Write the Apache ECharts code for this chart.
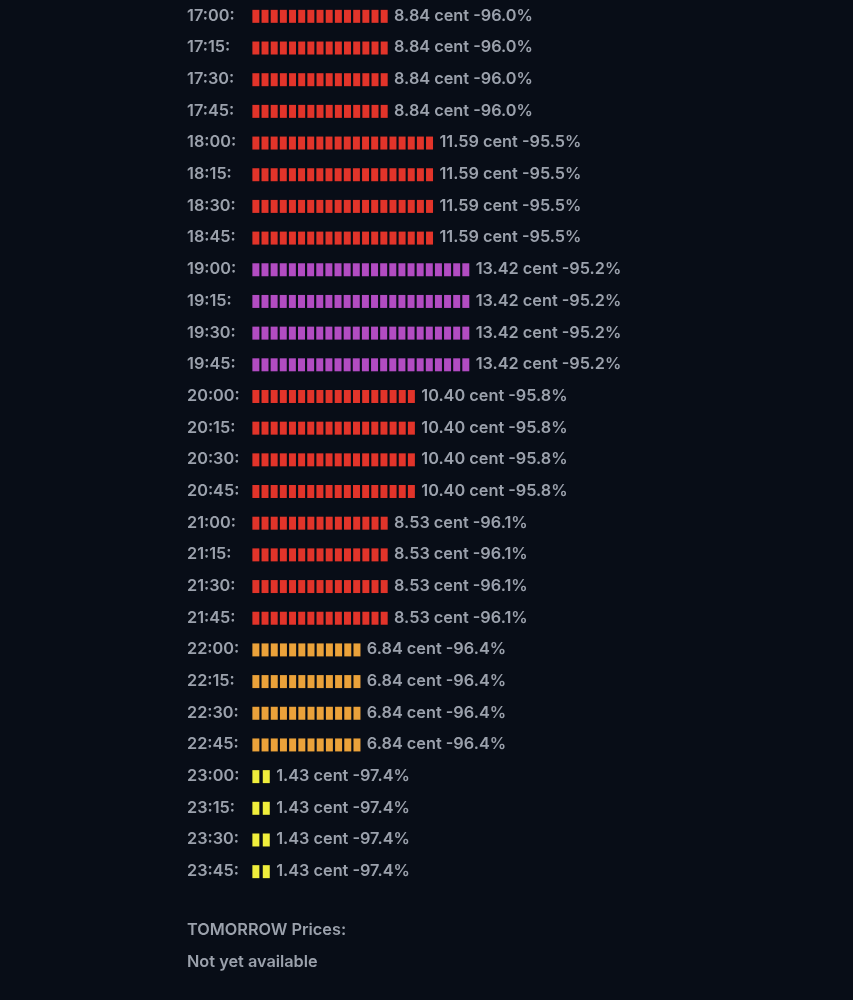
<!DOCTYPE html>
<html>
<head>
<meta charset="utf-8">
<script src="https://cdn.jsdelivr.net/npm/echarts@6/dist/echarts.min.js"></script>
<style>
  html, body { margin: 0; padding: 0; background: #080d17; }
  #chart { width: 853px; height: 1000px; }
</style>
</head>
<body>
<div id="chart"></div>
<script>
// time slots (quarter hours)
const times = [
  '17:00', '17:15', '17:30', '17:45', '18:00', '18:15', '18:30', '18:45',
  '19:00', '19:15', '19:30', '19:45', '20:00', '20:15', '20:30', '20:45',
  '21:00', '21:15', '21:30', '21:45', '22:00', '22:15', '22:30', '22:45',
  '23:00', '23:15', '23:30', '23:45'
]
// price in cent
const prices = [
  8.84, 8.84, 8.84, 8.84, 11.59, 11.59, 11.59, 11.59,
  13.42, 13.42, 13.42, 13.42, 10.40, 10.40, 10.40, 10.40,
  8.53, 8.53, 8.53, 8.53, 6.84, 6.84, 6.84, 6.84,
  1.43, 1.43, 1.43, 1.43
]
// change vs reference
const changes = [
  -96.0, -96.0, -96.0, -96.0, -95.5, -95.5, -95.5, -95.5,
  -95.2, -95.2, -95.2, -95.2, -95.8, -95.8, -95.8, -95.8,
  -96.1, -96.1, -96.1, -96.1, -96.4, -96.4, -96.4, -96.4,
  -97.4, -97.4, -97.4, -97.4
]
// number of blocks drawn per row
const blocks = [
  15, 15, 15, 15, 20, 20, 20, 20,
  24, 24, 24, 24, 18, 18, 18, 18,
  15, 15, 15, 15, 12, 12, 12, 12,
  2, 2, 2, 2
]
// price level per row
const levels = [
  'high', 'high', 'high', 'high', 'high', 'high', 'high', 'high',
  'peak', 'peak', 'peak', 'peak', 'high', 'high', 'high', 'high',
  'high', 'high', 'high', 'high', 'mid', 'mid', 'mid', 'mid',
  'low', 'low', 'low', 'low'
]

const colors = {
  peak: { fill: '#b24cc2', border: '#7c2e88' },
  high: { fill: '#e2342a', border: '#9c2018' },
  mid: { fill: '#eba23a', border: '#a86e20' },
  low: { fill: '#f0ee3c', border: '#a8a420' }
}

const FONT = 'Inter, "Noto Sans", sans-serif'
const FSIZE = 16.3
const PITCH = 9.07 // px per block

const chart = echarts.init(document.getElementById('chart'))

const option = {
  backgroundColor: '#080d17',
  animation: false,
  grid: {
    left: 252,
    top: -1,
    width: 560,
    height: 888,
    containLabel: false
  },
  xAxis: {
    type: 'value',
    min: 0,
    max: 560 / PITCH,
    show: false
  },
  yAxis: {
    type: 'category',
    inverse: true,
    data: times,
    axisLine: { show: false },
    axisTick: { show: false },
    axisLabel: {
      align: 'left',
      margin: 65,
      color: '#9ba1ac',
      fontFamily: FONT,
      fontWeight: 600,
      fontSize: FSIZE,
      formatter: (v) => v + ':'
    }
  },
  series: [
    {
      type: 'pictorialBar',
      symbol: 'rect',
      symbolSize: [7, 13],
      symbolClip: false,
      symbolOffset: [0, 0.5],
      data: blocks.map((b, i) => ({
        value: b,
        symbolRepeat: b,
        symbolBoundingData: b,
        itemStyle: {
          color: colors[levels[i]].fill,
          borderColor: colors[levels[i]].border,
          borderWidth: 1
        }
      })),
      label: {
        show: true,
        position: 'right',
        distance: 6,
        color: '#9ba1ac',
        fontFamily: FONT,
        fontWeight: 600,
        fontSize: FSIZE,
        formatter: (p) => prices[p.dataIndex].toFixed(2) + ' cent ' + changes[p.dataIndex].toFixed(1) + '%'
      }
    }
  ],
  graphic: [
    {
      type: 'text',
      left: 187,
      top: 922,
      style: {
        text: 'TOMORROW Prices:',
        fill: '#9ba1ac',
        font: '600 ' + FSIZE + 'px ' + FONT
      }
    },
    {
      type: 'text',
      left: 187,
      top: 954,
      style: {
        text: 'Not yet available',
        fill: '#9ba1ac',
        font: '600 ' + FSIZE + 'px ' + FONT
      }
    }
  ]
}

chart.setOption(option)
</script>
</body>
</html>
